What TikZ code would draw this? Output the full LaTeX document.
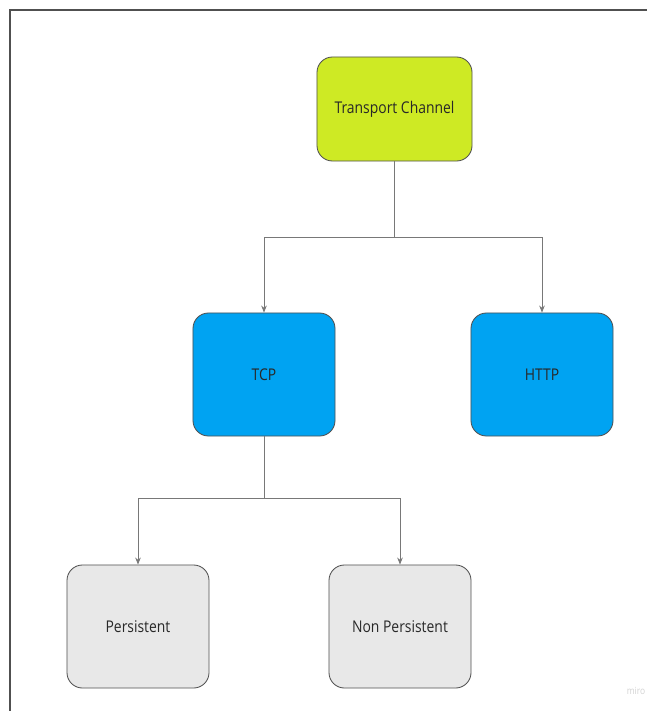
\documentclass[tikz,border=0pt]{standalone}
\usepackage{fontspec}
\setmainfont{Open Sans}[FakeStretch=0.86]
\usepackage{tikz}
\usetikzlibrary{positioning,arrows.meta}
\definecolor{amarillo}{RGB}{206,234,36}
\definecolor{azul}{RGB}{0,163,242}
\definecolor{grisclaro}{RGB}{232,232,232}
\definecolor{borde}{RGB}{80,80,80}
\definecolor{conector}{RGB}{120,120,120}
\definecolor{textocaja}{RGB}{40,40,40}
\tikzset{
  caja/.style={draw=borde, line width=0.6pt, rounded corners=11pt, align=center,
    text=textocaja, font=\fontsize{11.5}{13}\selectfont, inner sep=0pt},
  raiz/.style={caja, fill=amarillo, minimum width=3.875cm, minimum height=2.6cm},
  hoja/.style={caja, minimum width=3.55cm, minimum height=3.075cm},
  flecha/.style={conector, line width=0.6pt, -{Stealth[length=5pt,width=4pt]}},
  linea/.style={conector, line width=0.6pt}
}

\begin{document}
\begin{tikzpicture}[x=0.025cm, y=-0.025cm]
  \useasboundingbox (0,0) rectangle (647,711);
  % marco de la pagina
  \draw[borde, line width=0.8pt] (10,711) -- (10,10) -- (647,10);
  % cajas
  \node[raiz] (canal) at (394.5,109) {Transport Channel};
  \node[hoja, fill=azul] (tcp) at (264,374.5) {TCP};
  \node[hoja, fill=azul] (http) at (542,374.5) {HTTP};
  \node[hoja, fill=grisclaro] (pers) at (138,626.5) {Persistent};
  \node[hoja, fill=grisclaro] (nopers) at (400,626.5) {Non Persistent};
  % conectores
  \coordinate (bifA) at (394.5,237);
  \coordinate (bifB) at (264,498);
  \draw[linea] (canal) -- (bifA);
  \draw[flecha] (bifA) -| (tcp.north);
  \draw[flecha] (bifA) -| (http.north);
  \draw[linea] (tcp) -- (bifB);
  \draw[flecha] (bifB) -| (pers.north);
  \draw[flecha] (bifB) -| (nopers.north);
  \node[text=gray!35, font=\fontsize{7}{8}\selectfont] (marca) at (636,691) {miro};
\end{tikzpicture}
\end{document}
